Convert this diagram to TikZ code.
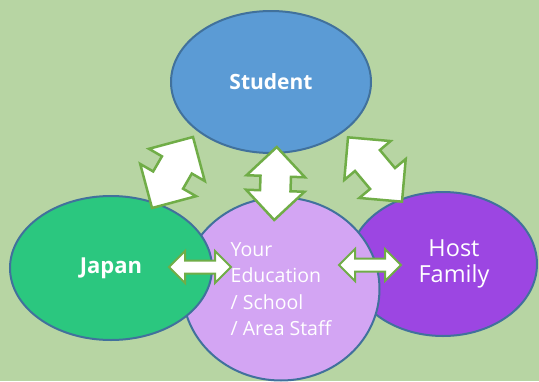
\documentclass[tikz,border=0pt]{standalone}
\usepackage{fontspec}
\setmainfont{Open Sans}
\usepackage{tikz}
\usetikzlibrary{shapes.geometric}
\usetikzlibrary{shapes.arrows}

\definecolor{bggreen}{HTML}{B7D5A3}
\definecolor{edgeblue}{HTML}{41719C}
\definecolor{studentblue}{HTML}{5B9BD5}
\definecolor{japangreen}{HTML}{2BC77F}
\definecolor{stafflilac}{HTML}{D3A5F3}
\definecolor{hostpurple}{HTML}{9C46E2}
\definecolor{arrowgreen}{HTML}{70AD47}

\tikzset{
  party/.style={ellipse, draw=edgeblue, line width=2pt, inner sep=0pt, text=white},
  bigarrow/.style={double arrow, draw=arrowgreen, fill=white, line width=2.5pt, inner xsep=0pt, inner ysep=16, double arrow head extend=15},
  smallarrow/.style={double arrow, draw=arrowgreen, fill=white, line width=2pt, inner xsep=0pt, inner ysep=5.5, double arrow head extend=9.5, minimum height=62}
}

\begin{document}
\begin{tikzpicture}[x=1pt, y=-1pt]
\fill[bggreen] (0,0) rectangle (539,381);
\useasboundingbox (0,0) rectangle (539,381);
\node[party, fill=studentblue, minimum width=200, minimum height=142, font=\bfseries\fontsize{21}{25}\selectfont] (student) at (271,82) {Student};
\node[party, fill=hostpurple, minimum width=188, minimum height=144, label={[text=white, align=center, xshift=11, font=\fontsize{23.5}{26}\selectfont]center:Host\\Family}] (host) at (443,264) {};
\node[party, fill=stafflilac, minimum width=197, minimum height=183, align=left, font=\fontsize{19.5}{26.5}\selectfont] (staff) at (281,289) {Your\\Education\\/ School\\/ Area Staff};
\node[party, fill=japangreen, minimum width=202, minimum height=144, font=\bfseries\fontsize{22}{26}\selectfont] (japan) at (111,268) {Japan};
\node[bigarrow, minimum height=82, rotate=60] (japanstudent) at (172.5,172.5) {};
\node[bigarrow, minimum height=73, inner ysep=14, double arrow head extend=14, rotate=88] (staffstudent) at (275.5,183.5) {};
\node[bigarrow, minimum height=84, inner ysep=15, double arrow head extend=14, rotate=130] (hoststudent) at (375,169.5) {};
\node[smallarrow] (japanstaff) at (200,267) {};
\node[smallarrow] (stafhost) at (370,265) {};
\end{tikzpicture}
\end{document}
